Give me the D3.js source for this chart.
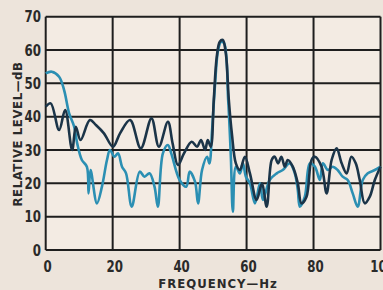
<html>
<head>
<script src="https://d3js.org/d3.v7.min.js"></script>
<style>
body { margin: 0; background: #ede4db; }
svg { display: block; }
text { font-family: 'Liberation Sans Narrow', 'DejaVu Sans Condensed', sans-serif; font-weight: bold; fill: #2a2a2a; }
</style>
</head>
<body>
<svg width="383" height="290"></svg>
<script>

var svg = d3.select("svg");

var xTicks = [0, 20, 40, 60, 80, 100];
var yTicks = [0, 10, 20, 30, 40, 50, 60, 70];

// dark trace: [Hz, dB]
var darkHz = [0, 1.5, 4, 5.8, 7.9, 9, 10.4, 13.2, 15, 17.4, 20.1, 22.2, 25.2, 28.4, 31.6, 33.8, 36.5, 37.9, 39.5, 41.3, 43.6, 45.2, 46.4, 47.6, 48.4, 49.3, 50.2, 51.1, 52, 52.9, 53.8, 54.7, 55.6, 56.8, 58, 59.5, 61, 63, 64.6, 66, 67.5, 68.4, 69.4, 70.4, 71.4, 72.3, 73.8, 75.3, 76.4, 77.9, 79.4, 80.4, 82.4, 83.9, 85.4, 86.9, 88.4, 89.9, 91.3, 92.6, 93.8, 95.3, 96.8, 98.3, 100];
var darkDb = [43, 44, 36, 42, 30, 37, 33, 39, 37.5, 35, 31, 35, 39, 30.5, 39.5, 31, 38.5, 32, 25.5, 29, 32.5, 31, 33, 30, 33, 31, 45, 58, 62.5, 63, 59, 45, 35, 26, 24, 28, 23, 15, 20, 13, 27, 28, 26, 28, 25, 27, 25, 20, 14, 16, 27, 28, 25, 17, 27, 30.5, 26, 23, 28, 26, 21, 14, 16, 21, 25];

// light trace
var tealHz = [0, 1.8, 4, 5.5, 7, 8.5, 9.4, 10.8, 12.3, 12.8, 13.4, 15.3, 16.8, 18.3, 19.2, 20.5, 21.6, 22.8, 24, 25.7, 28.1, 29.5, 31, 32.5, 33.5, 35, 36.5, 37.5, 40, 42, 43, 44.6, 45.5, 46.7, 48.2, 48.9, 49.7, 50.6, 51.5, 52.4, 53.3, 54.5, 55.3, 55.9, 56.8, 58, 58.9, 59.8, 61, 62.5, 64, 64.9, 66.9, 69, 70.8, 72.9, 74.4, 75.3, 75.9, 77.4, 78.9, 80.4, 81.9, 82.8, 84.3, 85.7, 87.2, 88.7, 90.2, 91.7, 93.2, 94.7, 96.2, 98.3, 100];
var tealDb = [53, 53.5, 52, 48, 41, 37, 32, 27, 25, 17, 24, 14, 19, 27, 30, 28, 29, 25, 23, 13, 23.5, 22, 23, 19, 13, 29, 31.5, 29, 21, 19, 23.5, 20.5, 14, 24, 28, 26, 36, 50, 60, 62.5, 62, 45, 28, 11.5, 25, 23, 26, 22, 20, 14, 20, 15, 21, 23, 24, 26, 23, 18, 13, 16, 26, 25, 21, 26, 24, 25, 24, 22, 21, 17, 13, 21, 23, 24, 25];

var x = d3.scaleLinear().domain([0, 100]).range([45.7, 380.5]);
var y = d3.scaleLinear().domain([0, 70]).range([250, 16.7]);

svg.append("rect")
  .attr("x", x(0)).attr("y", y(70))
  .attr("width", x(100) - x(0)).attr("height", y(0) - y(70))
  .attr("fill", "#f3ebe3");

// grid
svg.selectAll("line.h").data(yTicks).enter().append("line")
  .attr("x1", x(0)).attr("x2", x(100))
  .attr("y1", y).attr("y2", y)
  .attr("stroke", "#1e1e1e").attr("stroke-width", 2);
svg.selectAll("line.v").data(xTicks).enter().append("line")
  .attr("y1", y(0)).attr("y2", y(70))
  .attr("x1", x).attr("x2", x)
  .attr("stroke", "#1e1e1e").attr("stroke-width", 2);

var line = d3.line()
  .x(function (d) { return x(d[0]); })
  .y(function (d) { return y(d[1]); })
  .curve(d3.curveCatmullRom.alpha(0.5));

svg.append("path")
  .attr("d", line(d3.zip(tealHz, tealDb)))
  .attr("fill", "none").attr("stroke", "#2b8fb3").attr("stroke-width", 2.6);

svg.append("path")
  .attr("d", line(d3.zip(darkHz, darkDb)))
  .attr("fill", "none").attr("stroke", "#1b3448").attr("stroke-width", 2.6);

// labels (narrowed to mimic the condensed type)
svg.selectAll("text.y").data(yTicks).enter().append("text")
  .attr("transform", function (d) { return "translate(41," + (y(d) + 5.5) + ") scale(0.82,1)"; })
  .attr("text-anchor", "end").attr("font-size", 16)
  .text(function (d) { return d; });

svg.selectAll("text.x").data(xTicks).enter().append("text")
  .attr("transform", function (d) { return "translate(" + (x(d) + 2) + ",272) scale(0.82,1)"; })
  .attr("text-anchor", "middle").attr("font-size", 16)
  .text(function (d) { return d; });

svg.append("text")
  .attr("x", 218).attr("y", 288)
  .attr("text-anchor", "middle").attr("font-size", 13)
  .attr("letter-spacing", 1)
  .text("FREQUENCY—Hz");

svg.append("text")
  .attr("transform", "translate(22,134) rotate(-90)")
  .attr("text-anchor", "middle").attr("font-size", 13)
  .attr("letter-spacing", 0.6)
  .text("RELATIVE LEVEL—dB");

</script>
</body>
</html>
